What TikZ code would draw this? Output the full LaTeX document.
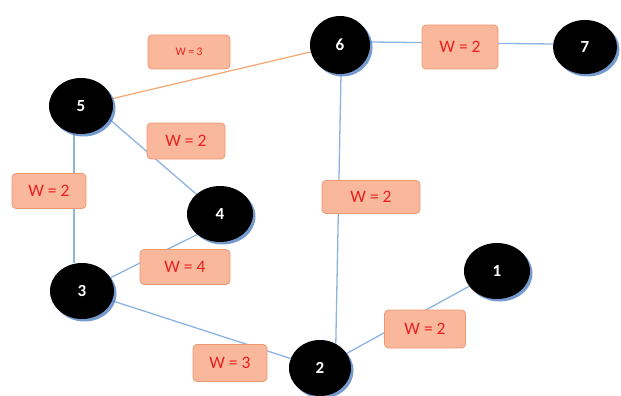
\documentclass[tikz,border=0pt]{standalone}
\usepackage{fontspec}
\setmainfont{Carlito}
\usetikzlibrary{shapes.geometric,shadows,backgrounds}
\definecolor{edgeblue}{RGB}{141,179,226}
\definecolor{edgeorange}{RGB}{244,166,114}
\definecolor{boxfill}{RGB}{249,184,156}
\definecolor{boxline}{RGB}{236,152,112}
\definecolor{wred}{RGB}{232,32,32}
\definecolor{shadowblue}{RGB}{70,120,190}
\begin{document}
\begin{tikzpicture}[x=1pt,y=-1pt,
  vertex/.style={ellipse, fill=black, inner sep=0pt, text=white,
    font=\fontsize{17}{17}\selectfont\bfseries,
    drop shadow={shadow xshift=2.5pt, shadow yshift=-2.5pt, fill=shadowblue, opacity=0.75}},
  weight/.style={rectangle, rounded corners=4pt, fill=boxfill, draw=boxline,
    line width=0.8pt, text=wred, inner sep=0pt, font=\fontsize{17.5}{17.5}\selectfont},
  link/.style={draw=edgeblue, line width=1.3pt},
  hotlink/.style={draw=edgeorange, line width=1.2pt}]
\useasboundingbox (0,0) rectangle (621,396);

% vertices
\node[vertex, minimum width=64pt, minimum height=56pt] (n5) at (81,106) {5};
\node[vertex, minimum width=60pt, minimum height=58pt] (n6) at (340,45) {6};
\node[vertex, minimum width=64pt, minimum height=54pt] (n7) at (585,47) {7};
\node[vertex, minimum width=66pt, minimum height=56pt] (n4) at (220,214) {4};
\node[vertex, minimum width=64pt, minimum height=56pt] (n3) at (82,291) {3};
\node[vertex, minimum width=62pt, minimum height=56pt] (n2) at (320,368) {2};
\node[vertex, minimum width=66pt, minimum height=56pt] (n1) at (497,271) {1};

% edge weights
\node[weight, minimum width=82pt, minimum height=34pt, font=\fontsize{11.5}{11.5}\selectfont] (w56) at (189,52) {W = 3};
\node[weight, minimum width=78pt, minimum height=36pt] (w54) at (186,141) {W = 2};
\node[weight, minimum width=74pt, minimum height=35pt] (w53) at (49,191) {W = 2};
\node[weight, minimum width=76pt, minimum height=44pt] (w67) at (460,47) {W = 2};
\node[weight, minimum width=98pt, minimum height=33pt] (w62) at (371,197) {W = 2};
\node[weight, minimum width=90pt, minimum height=35pt] (w43) at (185,267) {W = 4};
\node[weight, minimum width=74pt, minimum height=37pt] (w32) at (230,363) {W = 3};
\node[weight, minimum width=81pt, minimum height=38pt] (w21) at (425,329) {W = 2};

% edges
\begin{scope}[on background layer]
  \draw[hotlink] (n5) -- (n6);
  \draw[link] ([yshift=3pt]n6.east) -- ([yshift=3pt]n7.west);
  \draw[link] (n5.-25) -- (n4.140);
  \draw[link] ([xshift=-7pt]n5.south) -- ([xshift=-8pt]n3.north);
  \draw[link] (n3.25) -- (n4.-138);
  \draw[link] (n3) -- (n2);
  \draw[link] ([xshift=1pt]n6.south) -- (n2.57);
  \draw[link] (n2) -- (n1);
\end{scope}
\end{tikzpicture}
\end{document}
